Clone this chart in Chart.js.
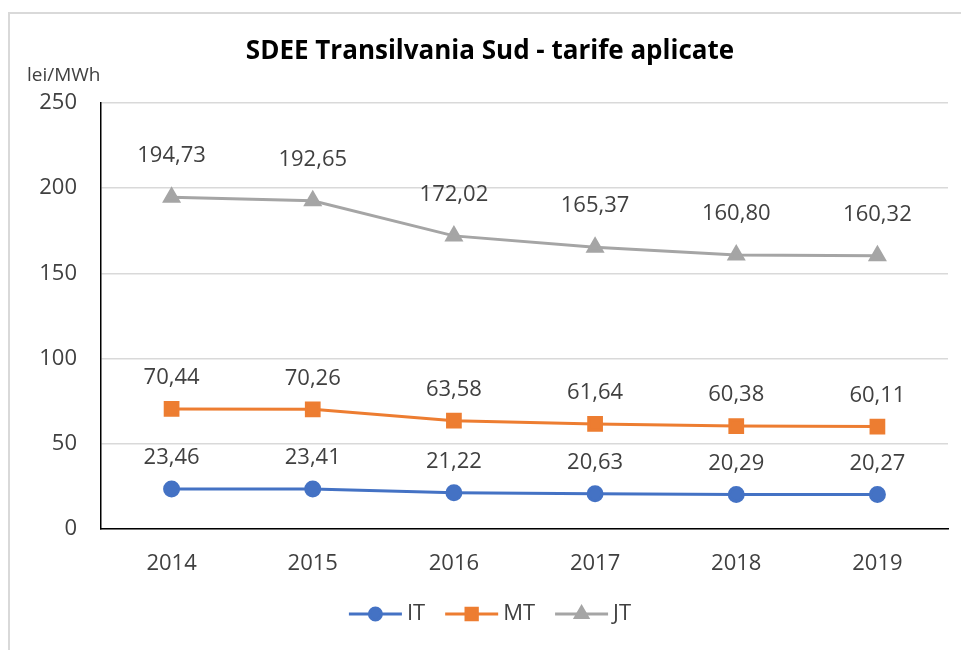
<!DOCTYPE html>
<html>
<head>
<meta charset="utf-8">
<title>SDEE Transilvania Sud - tarife aplicate</title>
<script src="https://cdn.jsdelivr.net/npm/chart.js@4/dist/chart.umd.min.js"></script>
<style>
  html, body { margin: 0; padding: 0; background: #fff; }
</style>
</head>
<body>
<canvas id="tarifeChart" width="961" height="650"></canvas>
<script>
/*===== DATA =====*/
const years = ['2014', '2015', '2016', '2017', '2018', '2019']
const itValues = [23.46, 23.41, 21.22, 20.63, 20.29, 20.27]
const mtValues = [70.44, 70.26, 63.58, 61.64, 60.38, 60.11]
const jtValues = [194.73, 192.65, 172.02, 165.37, 160.80, 160.32]
const seriesNames = ['IT', 'MT', 'JT']
const yTicks = [0, 50, 100, 150, 200, 250]

const chartTitle = 'SDEE Transilvania Sud - tarife aplicate'
const unitLabel = 'lei/MWh'

const textColor = '#404040'
const numFont = '"Open Sans", "Noto Sans", sans-serif'

const fmt = v => v.toFixed(2).replace('.', ',')

// frame, data labels, title, unit, custom legend (line + marker)
const extras = {
    id: 'extras',
    beforeDraw(chart){
        const ctx = chart.ctx
        ctx.save()
        ctx.strokeStyle = '#d9d9d9'
        ctx.lineWidth = 2
        ctx.beginPath()
        ctx.moveTo(9, 650)
        ctx.lineTo(9, 13)
        ctx.lineTo(961, 13)
        ctx.stroke()
        ctx.restore()
    },
    afterDatasetsDraw(chart){
        const ctx = chart.ctx
        ctx.save()
        ctx.font = '22px ' + numFont
        ctx.fillStyle = textColor
        ctx.textAlign = 'center'
        ctx.textBaseline = 'middle'
        chart.data.datasets.forEach((ds, i) => {
            const meta = chart.getDatasetMeta(i)
            meta.data.forEach((pt, j) => {
                ctx.fillText(fmt(ds.data[j]), pt.x, pt.y - ds.labelOffset)
            })
        })
        ctx.restore()
    },
    afterDraw(chart){
        const ctx = chart.ctx
        ctx.save()
        // title
        ctx.fillStyle = '#000'
        ctx.font = 'bold 26px ' + numFont
        ctx.textAlign = 'center'
        ctx.textBaseline = 'middle'
        ctx.fillText(chartTitle, 490, 52)
        // unit
        ctx.fillStyle = textColor
        ctx.font = '19px ' + numFont
        ctx.textAlign = 'left'
        ctx.fillText(unitLabel, 27, 76)

        // legend
        ctx.font = '22px ' + numFont
        const lineLen = 53, gap = 5, itemGap = 20, ly = 614
        const widths = chart.data.datasets.map(ds => lineLen + gap + ctx.measureText(ds.label).width)
        const total = widths.reduce((a, b) => a + b, 0) + itemGap * (widths.length - 1)
        let x = 490 - total / 2
        chart.data.datasets.forEach((ds, i) => {
            ctx.strokeStyle = ds.borderColor
            ctx.lineWidth = 3
            ctx.beginPath()
            ctx.moveTo(x, ly)
            ctx.lineTo(x + lineLen, ly)
            ctx.stroke()
            ctx.fillStyle = ds.backgroundColor
            ctx.strokeStyle = ds.borderColor
            Chart.helpers.drawPoint(ctx, {
                pointStyle: ds.pointStyle, radius: ds.pointRadius - 1, rotation: 0, borderWidth: 1
            }, x + lineLen / 2, ly)
            ctx.fillStyle = textColor
            ctx.textAlign = 'left'
            ctx.fillText(ds.label, x + lineLen + gap, ly)
            x += widths[i] + itemGap
        })
        ctx.restore()
    }
}

const ctx = document.getElementById('tarifeChart').getContext('2d')
const tarifeChart = new Chart(ctx, {
    type: 'line',
    data: {
        labels: years,
        datasets: [{
            label: seriesNames[0],
            data: itValues,
            borderColor: '#4472c4',
            backgroundColor: '#4472c4',
            borderWidth: 3,
            pointStyle: 'circle',
            pointRadius: 7,
            labelOffset: 31
        }, {
            label: seriesNames[1],
            data: mtValues,
            borderColor: '#ed7d31',
            backgroundColor: '#ed7d31',
            borderWidth: 3,
            pointStyle: 'rect',
            pointRadius: 9,
            labelOffset: 31
        }, {
            label: seriesNames[2],
            data: jtValues,
            borderColor: '#a5a5a5',
            backgroundColor: '#a5a5a5',
            borderWidth: 3,
            pointStyle: 'triangle',
            pointRadius: 8,
            labelOffset: 41
        }]
    },
    options: {
        responsive: false,
        animation: false,
        layout: {
            padding: { left: 10, right: 13, top: 103, bottom: 0 }
        },
        plugins: {
            legend: { display: false },
            title: { display: false },
            tooltip: { enabled: false }
        },
        scales: {
            x: {
                offset: true,
                grid: { display: true, drawOnChartArea: false, drawTicks: false },
                border: { display: true, color: '#000', width: 1.5 },
                ticks: { color: textColor, padding: 22, font: { family: numFont, size: 22 } },
                afterFit: scale => { scale.height = 121 }
            },
            y: {
                min: 0,
                max: 250,
                afterBuildTicks: scale => { scale.ticks = yTicks.map(v => ({ value: v })) },
                grid: { color: '#d9d9d9', lineWidth: 1.5, drawTicks: false },
                border: { display: true, color: '#000', width: 1.5 },
                ticks: { color: textColor, padding: 24, font: { family: numFont, size: 22 } },
                afterFit: scale => { scale.width = 91 }
            }
        }
    },
    plugins: [extras]
})
</script>
</body>
</html>
